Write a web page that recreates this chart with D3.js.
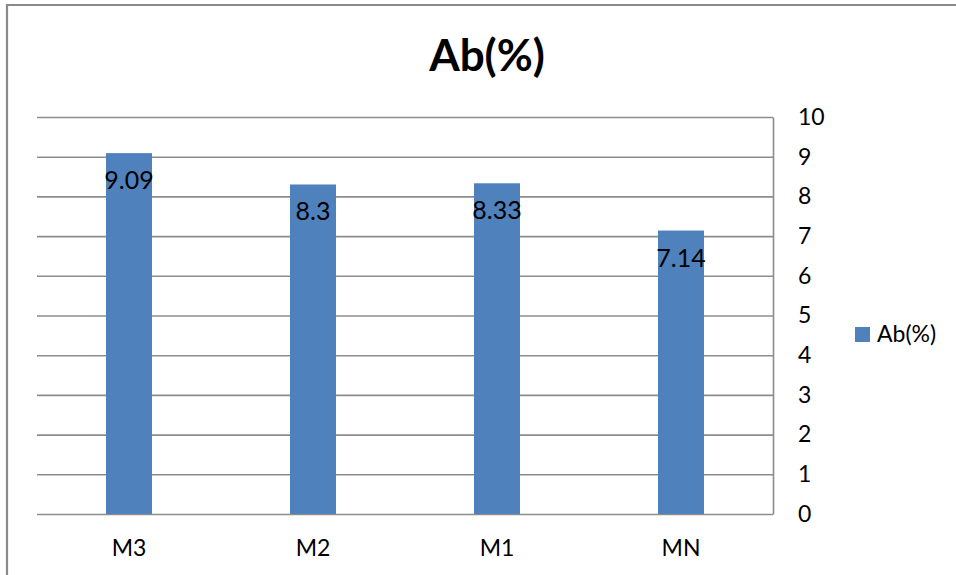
<!DOCTYPE html>
<html>
<head>
<meta charset="utf-8">
<script src="https://cdn.jsdelivr.net/npm/d3@7"></script>
<style>
  html, body { margin: 0; padding: 0; background: #fff; }
  svg { display: block; font-family: Lato, "Open Sans", "Liberation Sans", sans-serif; }
</style>
</head>
<body>
<svg id="chart" width="956" height="575"></svg>
<script>
// Chart data
const categories = ["M3", "M2", "M1", "MN"];
const values = [9.09, 8.3, 8.33, 7.14];
const yTicks = [0, 1, 2, 3, 4, 5, 6, 7, 8, 9, 10];
const seriesName = "Ab(%)";
const chartTitle = "Ab(%)";

const svg = d3.select("#chart");
const plot = { left: 37, right: 773, top: 117, bottom: 514 };
const barColor = "#4F81BD";
const gridColor = "#8C8C8C";

// Outer frame of the chart area
svg.append("path")
  .attr("d", "M7,575V5H956")
  .attr("fill", "none")
  .attr("stroke", "#8A8A8A")
  .attr("stroke-width", 2.2);

// Title
svg.append("text")
  .attr("x", 487)
  .attr("y", 71)
  .attr("text-anchor", "middle")
  .attr("font-size", 44)
  .attr("font-weight", "bold")
  .attr("fill", "#000")
  .text(chartTitle);

const x = d3.scaleBand()
  .domain(categories)
  .range([plot.left, plot.right])
  .paddingInner(0.75)
  .paddingOuter(0.375);

const y = d3.scaleLinear()
  .domain([0, 10])
  .range([plot.bottom, plot.top]);

// Value axis on the right, with gridlines across the plot
const yAxis = svg.append("g")
  .attr("transform", `translate(${plot.right},0)`)
  .call(d3.axisRight(y)
    .tickValues(yTicks)
    .tickFormat(d3.format("d"))
    .tickSizeInner(-(plot.right - plot.left))
    .tickSizeOuter(0)
    .tickPadding(25));
yAxis.select(".domain").attr("stroke", gridColor).attr("stroke-width", 1.6);
yAxis.selectAll(".tick line").attr("stroke", gridColor).attr("stroke-width", 1.6);
yAxis.selectAll(".tick text")
  .attr("font-size", 23)
  .attr("fill", "#000")
  .attr("font-family", "Lato, 'Open Sans', sans-serif");

// Bars
svg.append("g").selectAll("rect")
  .data(values)
  .join("rect")
  .attr("x", (d, i) => x(categories[i]))
  .attr("y", d => y(d))
  .attr("width", x.bandwidth())
  .attr("height", d => y(0) - y(d))
  .attr("fill", barColor);

// Value labels inside the top of each bar
svg.append("g").selectAll("text")
  .data(values)
  .join("text")
  .attr("x", (d, i) => x(categories[i]) + x.bandwidth() / 2)
  .attr("y", d => y(d) + 36)
  .attr("text-anchor", "middle")
  .attr("font-size", 25)
  .attr("fill", "#000")
  .text(d => d);

// Category axis labels
const xAxis = svg.append("g")
  .attr("transform", `translate(0,${plot.bottom})`)
  .call(d3.axisBottom(x).tickSize(0).tickPadding(26));
xAxis.select(".domain").remove();
xAxis.selectAll(".tick text")
  .attr("font-size", 23)
  .attr("fill", "#000")
  .attr("font-family", "Lato, 'Open Sans', sans-serif");

// Legend
const legend = svg.append("g").attr("transform", "translate(855,327)");
legend.append("rect")
  .attr("width", 15)
  .attr("height", 15)
  .attr("fill", barColor);
legend.append("text")
  .attr("x", 22)
  .attr("y", 15)
  .attr("font-size", 23)
  .attr("fill", "#000")
  .text(seriesName);
</script>
</body>
</html>
